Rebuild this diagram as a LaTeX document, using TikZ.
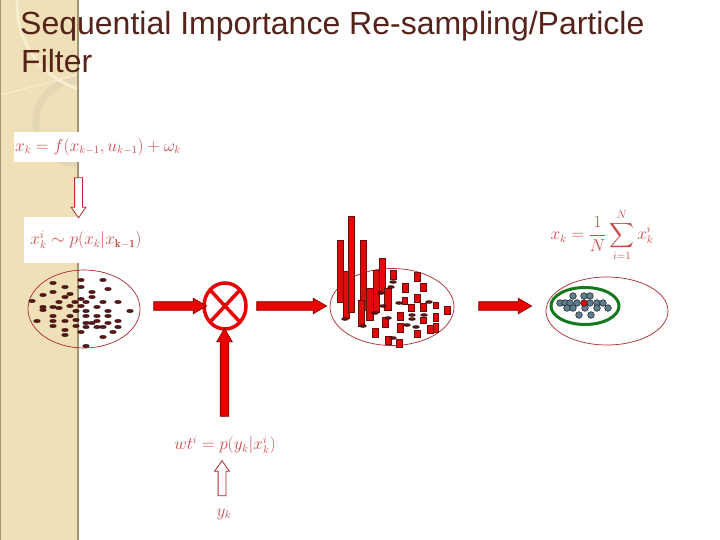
\documentclass[tikz,border=0pt]{standalone}
\usepackage{amsmath}
\usepackage{fontspec}
\newfontfamily\titlefont{Liberation Sans}
\usetikzlibrary{shapes.arrows,shapes.geometric}
\definecolor{strip}{RGB}{239,224,183}
\definecolor{stripring}{RGB}{229,215,180}
\definecolor{stripline}{RGB}{247,238,210}
\definecolor{stripedge}{RGB}{165,148,112}
\definecolor{titlec}{RGB}{85,35,25}
\definecolor{formc}{RGB}{205,75,75}
\definecolor{ellc}{RGB}{175,40,50}
\definecolor{arrowred}{RGB}{232,0,0}
\definecolor{arrowedge}{RGB}{130,0,0}
\definecolor{partc}{RGB}{95,20,20}
\definecolor{barred}{RGB}{225,10,10}
\definecolor{baredge}{RGB}{110,10,10}
\definecolor{dotc}{RGB}{95,125,140}
\definecolor{dotedge}{RGB}{30,45,55}
\definecolor{greenc}{RGB}{20,120,30}
\begin{document}
\begin{tikzpicture}[x=1pt,y=-1pt,
  redarrow/.style={single arrow, draw=arrowedge, fill=arrowred, line width=0.6pt,
    inner xsep=0pt, inner ysep=4pt, single arrow head extend=3.5pt, single arrow tip angle=60},
  hollowarrow/.style={single arrow, draw=ellc, fill=white, line width=0.8pt,
    inner xsep=0pt, inner ysep=3.5pt, single arrow head extend=3.5pt, single arrow tip angle=70},
  formbox/.style={fill=white, text=formc, inner sep=0pt, font=\fontsize{16.2}{18}\selectfont},
  formula/.style={text=formc, inner sep=0pt, font=\fontsize{16}{18}\selectfont},
  cloud/.style={draw=ellc, ellipse, line width=0.7pt, inner sep=0pt},
  titletext/.style={anchor=base west, inner sep=0pt, text=titlec, font=\titlefont\fontsize{32}{38}\selectfont},
  particle/.style={fill=partc, draw=black!70!partc, line width=0.3pt},
  bar/.style={fill=barred, draw=baredge, line width=0.5pt},
  dot/.style={fill=dotc, draw=dotedge, line width=0.6pt}]
\useasboundingbox (0,0) rectangle (720,540);
\fill[white] (0,0) rectangle (720,540);
% decorative strip
\fill[strip] (0,0) rectangle (78,540);
\begin{scope}
  \clip (0,0) rectangle (77,540);
  \draw[stripring, line width=7pt] (78,122) circle (42);
  \draw[stripline, line width=3pt] (105,5) circle (88);
  \draw[stripline, line width=1pt] (0,95) -- (77,75);
\end{scope}
\draw[stripedge, line width=1.5pt] (78,0) -- (78,540);
\draw[stripedge, line width=1pt] (0.5,0) -- (0.5,540);
% title
\node[titletext] (title1) at (20,35) {Sequential Importance Re-sampling/Particle};
\node[titletext] (title2) at (21,73) {Filter};
% formula boxes
\node[formbox, minimum width=168pt, minimum height=30pt] (fsys) at (98,147) {$x_k = f(x_{k-1},u_{k-1})+\omega_k$};
\node[formbox, font=\fontsize{16}{18}\selectfont, minimum width=124pt, minimum height=45pt] (fsamp) at (86,240) {$x_k^i \sim p(x_k|x_{\mathbf{k-1}})$};
\node[hollowarrow, minimum height=40pt, rotate=-90] (h1) at (78.5,195) {};
% first cloud
\node[cloud, minimum width=112pt, minimum height=78pt] (ell1) at (84,309) {};
\foreach \x/\y in {53/283,81/280,103/280,43/295,53/292,65/287,81/287,92/292,108/289,
  32/301,59/302,65/297,70/294,81/299,92/297,43/307,53/307,70/306,75/302,86/302,103/302,118/302,
  43/310,59/308,81/306,97/307,76/311,86/311,108/311,130/311,53/316,70/316,86/316,97/316,108/316,
  37/321,53/321,65/321,76/320,86/323,97/321,108/323,118/321,53/326,76/326,86/327,92/323,97/327,
  103/327,113/332,118/327,65/330,65/335,81/332,103/337,86/346}
  \filldraw[particle] (\x,\y) ellipse (3.4 and 1.7);
% multiplier
\node[draw=arrowred, ellipse, line width=3.5pt, minimum width=42pt, minimum height=46pt] (mult) at (225,306) {};
\draw[arrowred, line width=3.5pt] (211,291) -- (239,321) (239,291) -- (211,321);
\node[redarrow, minimum height=53pt] (a1) at (176.5,306) {};
\node[redarrow, minimum height=70pt] (a2) at (288,306) {};
\node[redarrow, minimum height=88pt, rotate=90] (a3) at (224.5,376) {};
% weights
\node[formula] (fw) at (225,445) {$wt^i = p(y_k|x_k^i)$};
\node[hollowarrow, minimum height=35pt, rotate=90] (h2) at (222,481) {};
\node[formula] (fy) at (224,514) {$y_k$};
% second cloud
\node[cloud, minimum width=124pt, minimum height=77pt] (ell2) at (392,307) {};
\foreach \a/\b/\c/\d in {337/240/343/302, 343/271/349/318, 348/216/354/312, 360/240/366/310,
  358/300/364/326, 366/288/373/320, 373/270/379/312, 379/258/385/293, 384/288/391/310,
  390/270/396/279, 402/283/408/292, 414/272/420/281, 420/283/426/291, 414/294/420/302,
  402/297/407/304, 408/304/414/311, 420/303/426/311, 433/302/438/308, 444/306/450/314,
  397/312/403/320, 433/313/438/321, 420/317/426/323, 397/323/403/332, 427/325/433/333,
  433/323/438/332, 414/330/420/337, 382/317/388/327, 372/328/378/337, 385/336/391/344,
  396/339/402/347}
  \filldraw[bar] (\a,\b) rectangle (\c,\d);
\foreach \x/\y in {391/287,399/303,429/302,412/315,424/315,412/319,407/325,416/327,393/338,
  393/282,381/293,383/306,388/318,363/326,345/319,375/313}
  \filldraw[particle] (\x,\y) ellipse (3.5 and 1.5);
\node[redarrow, minimum height=53pt] (a4) at (501.5,306) {};
% third cloud
\node[cloud, minimum width=122pt, minimum height=68pt] (ell3) at (607,311) {};
\node[draw=greenc, ellipse, line width=3pt, minimum width=68pt, minimum height=37pt] (grp) at (585,306) {};
\foreach \x/\y in {573/296,584/296,590/296,560/303,565/303,570/303,577/303,590/303,597/303,603/303,
  567/308,573/308,585/308,597/308,608/308,579/315,591/315}
  \filldraw[dot] (\x,\y) circle (3.3);
\filldraw[fill=arrowred, draw=dotedge, line width=0.6pt] (584,303) circle (3.3);
\node[formula] (fmean) at (602,235) {$\displaystyle x_k = \frac{1}{N}\sum_{i=1}^{N} x_k^i$};
\end{tikzpicture}
\end{document}
